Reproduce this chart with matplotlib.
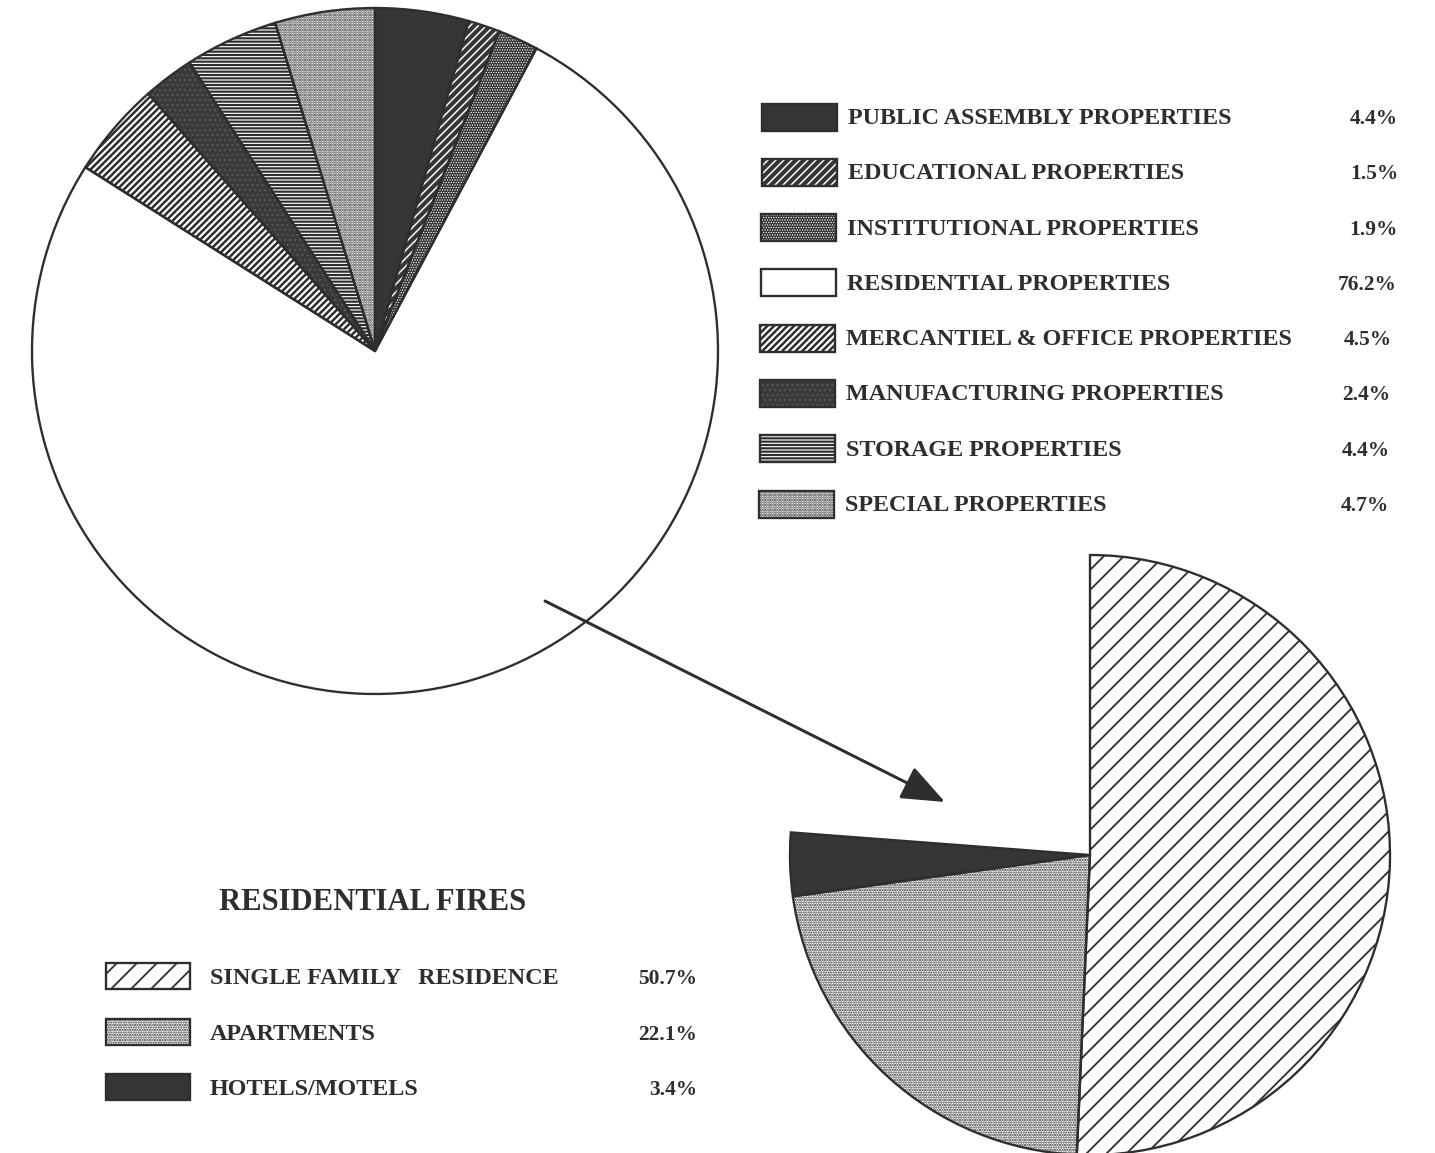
import matplotlib

matplotlib.use("Agg")
import matplotlib.pyplot as plt
import numpy as np
from matplotlib.patches import Rectangle

W, H, DPI = 1435, 1153, 120
INK = "#2e2e2e"
DARK = "#363636"
plt.rcParams["font.family"] = ["Liberation Serif", "DejaVu Serif"]

# fire incidence by property class, clockwise from 12 o'clock
classes = ["PUBLIC ASSEMBLY PROPERTIES", "EDUCATIONAL PROPERTIES", "INSTITUTIONAL PROPERTIES",
           "RESIDENTIAL PROPERTIES", "MERCANTIEL & OFFICE PROPERTIES", "MANUFACTURING PROPERTIES",
           "STORAGE PROPERTIES", "SPECIAL PROPERTIES"]
class_pct = [4.4, 1.5, 1.9, 76.2, 4.5, 2.4, 4.4, 4.7]

# breakdown of the residential share
res_types = ["SINGLE FAMILY   RESIDENCE", "APARTMENTS", "HOTELS/MOTELS"]
res_pct = [50.7, 22.1, 3.4]

# (face, hatch, hatch colour, hatch linewidth)
class_style = [
    (DARK, None, DARK, 1.0),
    (DARK, "/////", "white", 0.9),
    ("#333333", "........", "white", 0.5),
    ("white", None, INK, 1.0),
    ("white", "//////", INK, 1.5),
    ("#3a3a3a", "....", "#5c5c5c", 0.6),
    ("white", "------", INK, 1.3),
    ("white", "........", INK, 1.0),
]
res_style = [
    ("white", "//", INK, 1.1),
    ("white", "........", INK, 0.9),
    (DARK, None, DARK, 1.0),
]


def fy(y):
    # layout below is measured from the top edge
    return H - y


def apply_style(patch, style):
    face, hatch, hc, hlw = style
    patch.set_facecolor(face)
    patch.set_edgecolor(hc)
    patch.set_linewidth(0)
    if hatch:
        patch.set_hatch(hatch)
        if hasattr(patch, "set_hatch_linewidth"):
            patch.set_hatch_linewidth(hlw)


def swatch(ax, x, yc, w, h, style):
    r = Rectangle((x, fy(yc) - h / 2), w, h)
    apply_style(r, style)
    ax.add_patch(r)
    ax.add_patch(Rectangle((x, fy(yc) - h / 2), w, h, fill=False, edgecolor=INK, linewidth=1.4))


fig = plt.figure(figsize=(W / DPI, H / DPI), dpi=DPI)
ax = fig.add_axes([0, 0, 1, 1])

# --- all property classes -----------------------------------------------------------------------
c1, r1 = (375, fy(351)), 343
wedges, _ = ax.pie(class_pct, startangle=90, counterclock=False, center=c1, radius=r1)
for w, s in zip(wedges, class_style):
    apply_style(w, s)
ax.pie(class_pct, startangle=90, counterclock=False, center=c1, radius=r1,
       wedgeprops=dict(fill=False, edgecolor=INK, linewidth=1.4))

# --- residential breakdown: fractions of the whole, so the pie stays open ------------------------
frac = np.array(res_pct) / 100
c2, r2 = (1090, fy(855)), 300
wedges, _ = ax.pie(frac, normalize=False, startangle=90, counterclock=False, center=c2, radius=r2)
for w, s in zip(wedges, res_style):
    apply_style(w, s)
ax.pie(frac, normalize=False, startangle=90, counterclock=False, center=c2, radius=r2,
       wedgeprops=dict(fill=False, edgecolor=INK, linewidth=1.4))

ax.annotate("", xy=(945, fy(802)), xytext=(545, fy(601)),
            arrowprops=dict(arrowstyle="-|>,head_length=0.75,head_width=0.3", mutation_scale=30,
                            color=INK, lw=1.8, shrinkA=0, shrinkB=0))

# --- legends --------------------------------------------------------------------------------------
pct_right = [1398, 1398, 1398, 1397, 1392, 1390, 1390, 1389]
for i, (name, pct, s) in enumerate(zip(classes, class_pct, class_style)):
    yc = 117 + i * 55.3
    swatch(ax, 762 - 0.4 * i, yc, 75, 27, s)
    ax.text(848 - 0.4 * i, fy(yc + 7), name, fontsize=14.5, fontweight="bold", color=INK, va="baseline")
    ax.text(pct_right[i], fy(yc + 7), f"{pct}%", fontsize=12.8, fontweight="bold", color=INK,
            ha="right", va="baseline")

ax.text(373, fy(910), "RESIDENTIAL FIRES", fontsize=18.4, fontweight="bold", color=INK,
        ha="center", va="baseline")
for i, (name, pct, s) in enumerate(zip(res_types, res_pct, res_style)):
    yc = 976 + i * 55.5
    swatch(ax, 106, yc, 84, 26, s)
    ax.text(210, fy(yc + 8), name, fontsize=14.5, fontweight="bold", color=INK, va="baseline")
    ax.text(697, fy(yc + 8), f"{pct}%", fontsize=12.8, fontweight="bold", color=INK,
            ha="right", va="baseline")

ax.set_xlim(0, W)
ax.set_ylim(0, H)
ax.set_aspect("auto")
ax.axis("off")
fig.savefig("out.png", dpi=DPI)
